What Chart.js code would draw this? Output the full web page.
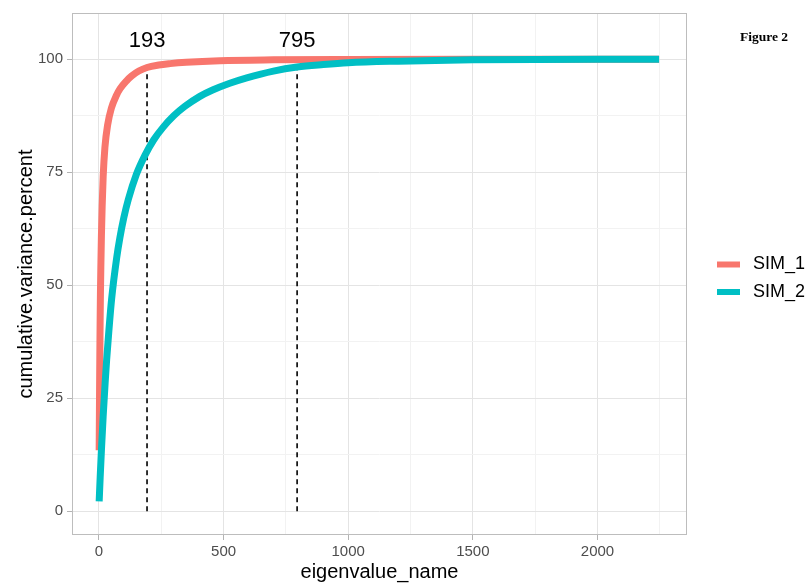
<!DOCTYPE html>
<html>
<head>
<meta charset="utf-8">
<script src="https://cdn.jsdelivr.net/npm/chart.js@4.4.1/dist/chart.umd.min.js"></script>
<style>
  html, body { margin: 0; padding: 0; background: #ffffff; }
  #wrap { width: 811px; height: 585px; }
</style>
</head>
<body>
<div id="wrap"><canvas id="c" width="811" height="585"></canvas></div>
<script>
// Cumulative explained variance per eigenvalue, two simulations
const sim1X = [1, 2, 3, 4, 5, 6, 8, 10, 13, 17, 24, 35, 50, 70, 85, 110, 131, 160, 193, 240, 285, 350, 485, 700, 1000, 1500, 2000, 2247];
const sim1Y = [13.5, 22, 30, 37, 43, 48, 55, 61, 67.5, 74, 80.5, 85.5, 89.2, 92, 93.5, 95.2, 96.3, 97.4, 98.2, 98.75, 99.05, 99.35, 99.7, 99.88, 99.96, 100, 100, 100];

const sim2X = [1, 5, 10, 17, 25, 31, 40, 51, 71, 84, 100, 118, 150, 185, 220, 258, 300, 345, 405, 456, 525, 593, 700, 795, 900, 1000, 1200, 1500, 2000, 2247];
const sim2Y = [2.2, 7.5, 13.5, 21, 28.5, 33.5, 40, 47, 56, 60.5, 65, 69, 74.5, 78.8, 82.2, 85, 87.5, 89.6, 91.8, 93.2, 94.7, 95.9, 97.4, 98.3, 98.85, 99.25, 99.6, 99.9, 100, 100];

// Number of eigenvalues at the cut-off, and the cumulative percent reached there
const cutoffX = [193, 795];
const cutoffY = [98.2, 98.3];
const cutoffLabels = ['193', '795'];
const cutoffLabelY = 104;

const seriesNames = ['SIM_1', 'SIM_2'];
const seriesColors = ['#F8766D', '#00BFC4'];

const xMajor = [0, 500, 1000, 1500, 2000];
const xMinor = [250, 750, 1250, 1750, 2250];
const yMajor = [0, 25, 50, 75, 100];
const yMinor = [12.5, 37.5, 62.5, 87.5];

const xTitle = 'eigenvalue_name';
const yTitle = 'cumulative.variance.percent';
const figureLabel = 'Figure 2';

const toPoints = (xs, ys) => xs.map((x, i) => ({ x: x, y: ys[i] }));

const FONT = '"Liberation Sans", Arial, Helvetica, sans-serif';
const MAJOR_GRID = '#e4e4e4';
const MINOR_GRID = '#f2f2f2';
const TICK_COL = '#b3b3b3';

function setTicks(values) {
  return function (scale) {
    scale.ticks = values.slice().sort((a, b) => a - b).map(v => ({ value: v }));
  };
}

const datasets = [
  {
    label: seriesNames[1],
    data: toPoints(sim2X, sim2Y),
    borderColor: seriesColors[1],
    borderWidth: 7,
    pointRadius: 0,
    cubicInterpolationMode: 'monotone',
    order: 0
  },
  {
    label: seriesNames[0],
    data: toPoints(sim1X, sim1Y),
    borderColor: seriesColors[0],
    borderWidth: 7,
    pointRadius: 0,
    cubicInterpolationMode: 'monotone',
    order: 1
  }
];
cutoffX.forEach((cx, i) => {
  datasets.push({
    label: 'cut' + i,
    data: [{ x: cx, y: 0 }, { x: cx, y: cutoffY[i] }],
    borderColor: '#000000',
    borderWidth: 1.6,
    borderDash: [5, 4],
    pointRadius: 0,
    order: 2
  });
});

const decor = {
  id: 'decor',
  afterDraw(chart) {
    const ctx = chart.ctx;
    const a = chart.chartArea;
    const xs = chart.scales.x, ys = chart.scales.y;
    ctx.save();

    // panel border
    ctx.strokeStyle = '#bdbdbd';
    ctx.lineWidth = 1;
    ctx.strokeRect(Math.round(a.left) + 0.5, Math.round(a.top) + 0.5,
                   Math.round(a.right - a.left) - 1, Math.round(a.bottom - a.top) - 1);

    // cut-off labels
    ctx.fillStyle = '#000000';
    ctx.font = '22px ' + FONT;
    ctx.textAlign = 'center';
    ctx.textBaseline = 'middle';
    cutoffX.forEach((cx, i) => {
      ctx.fillText(cutoffLabels[i], xs.getPixelForValue(cx), ys.getPixelForValue(cutoffLabelY));
    });

    // axis titles
    ctx.font = '20px ' + FONT;
    ctx.fillStyle = '#000000';
    ctx.textAlign = 'center';
    ctx.textBaseline = 'middle';
    ctx.fillText(xTitle, (a.left + a.right) / 2, 572);
    ctx.save();
    ctx.translate(26, (a.top + a.bottom) / 2);
    ctx.rotate(-Math.PI / 2);
    ctx.fillText(yTitle, 0, 0);
    ctx.restore();

    // legend
    const legY = [264.5, 292];
    ctx.font = '18px ' + FONT;
    ctx.textAlign = 'left';
    ctx.textBaseline = 'middle';
    seriesNames.forEach((name, i) => {
      ctx.strokeStyle = seriesColors[i];
      ctx.lineWidth = 6;
      ctx.beginPath();
      ctx.moveTo(717, legY[i]);
      ctx.lineTo(740, legY[i]);
      ctx.stroke();
      ctx.fillStyle = '#000000';
      ctx.fillText(name, 753, legY[i]);
    });

    // figure label
    ctx.font = 'bold 13.5px "Liberation Serif", "Times New Roman", serif';
    ctx.textAlign = 'left';
    ctx.textBaseline = 'alphabetic';
    ctx.fillStyle = '#000000';
    ctx.fillText(figureLabel, 740, 41);

    ctx.restore();
  }
};

new Chart(document.getElementById('c'), {
  type: 'line',
  data: { datasets: datasets },
  options: {
    responsive: false,
    devicePixelRatio: 1,
    animation: false,
    events: [],
    layout: { padding: { left: 0, right: 124, top: 12.7, bottom: 0 } },
    plugins: { legend: { display: false }, tooltip: { enabled: false } },
    scales: {
      x: {
        type: 'linear',
        min: -108,
        max: 2359,
        afterBuildTicks: setTicks(xMajor.concat(xMinor)),
        afterFit(scale) { scale.height = 50; },
        border: { display: false },
        grid: {
          color: c => xMajor.includes(c.tick.value) ? MAJOR_GRID : MINOR_GRID,
          tickColor: c => xMajor.includes(c.tick.value) ? TICK_COL : 'rgba(0,0,0,0)',
          tickLength: 5,
          lineWidth: 1
        },
        ticks: {
          autoSkip: false,
          maxRotation: 0,
          padding: 3,
          color: '#4d4d4d',
          font: { family: FONT, size: 15 },
          callback: v => xMajor.includes(v) ? String(v) : ''
        }
      },
      y: {
        type: 'linear',
        min: -5.25,
        max: 110.25,
        afterBuildTicks: setTicks(yMajor.concat(yMinor)),
        afterFit(scale) { scale.width = 72; },
        border: { display: false },
        grid: {
          color: c => yMajor.includes(c.tick.value) ? MAJOR_GRID : MINOR_GRID,
          tickColor: c => yMajor.includes(c.tick.value) ? TICK_COL : 'rgba(0,0,0,0)',
          tickLength: 5,
          lineWidth: 1
        },
        ticks: {
          autoSkip: false,
          padding: 4,
          color: '#4d4d4d',
          font: { family: FONT, size: 15 },
          callback: v => yMajor.includes(v) ? String(v) : ''
        }
      }
    }
  },
  plugins: [decor]
});
</script>
</body>
</html>
